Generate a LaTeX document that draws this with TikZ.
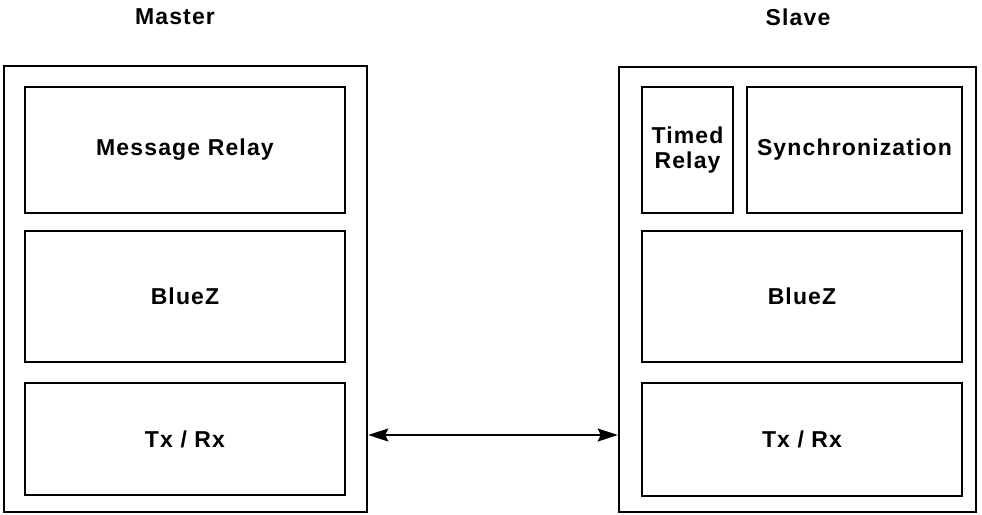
\documentclass[tikz,border=0pt]{standalone}
\usepackage{fontspec}
\newfontfamily\lblfont{Liberation Sans}[LetterSpace=5]
\usetikzlibrary{arrows.meta}
\tikzset{tip/.tip={Stealth[length=20pt,width=13pt,inset=3pt]}}
\begin{document}
\begin{tikzpicture}[x=1pt,y=-1pt,
  outerbox/.style={draw=black,line width=2.6pt,minimum width=#1,inner sep=0pt},
  layer/.style={draw=black,line width=2.6pt,inner sep=0pt,align=center,
    font=\lblfont\bfseries\fontsize{23}{25}\selectfont},
  title/.style={font=\lblfont\bfseries\fontsize{23}{25}\selectfont,inner sep=0pt},
  link/.style={line width=1.5pt,tip-tip}]
\useasboundingbox (0,0) rectangle (982,514);
% titles
\node[title] (mt) at (175,17) {Master};
\node[title] (st) at (798,17) {Slave};
% master side
\node[outerbox=363pt,minimum height=446pt] (masterbox) at (185.5,289) {};
\node[layer,minimum width=320pt,minimum height=126pt] (mr) at (185,150) {Message Relay};
\node[layer,minimum width=320pt,minimum height=131pt] (mbz) at (185,296.5) {BlueZ};
\node[layer,minimum width=320pt,minimum height=112pt] (mtx) at (185,439) {Tx / Rx};
% slave side
\node[outerbox=357pt,minimum height=445pt] (slavebox) at (797.5,289.5) {};
\node[layer,minimum width=91pt,minimum height=126pt] (tr) at (687.5,150) {Timed\\Relay};
\node[layer,minimum width=215pt,minimum height=126pt] (sync) at (854.5,150) {Synchronization};
\node[layer,minimum width=320pt,minimum height=131pt] (sbz) at (802,296.5) {BlueZ};
\node[layer,minimum width=320pt,minimum height=113pt] (stx) at (802,439.5) {Tx / Rx};
% link
\coordinate (linky) at (0,435);
\draw[link] (masterbox.east |- linky) -- (slavebox.west |- linky);
\end{tikzpicture}
\end{document}
